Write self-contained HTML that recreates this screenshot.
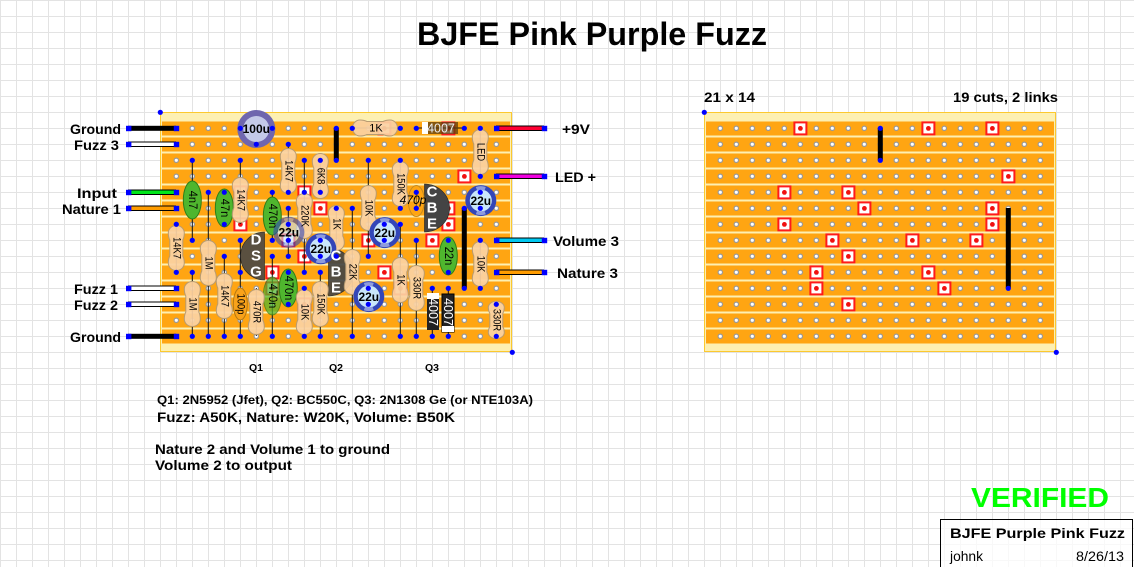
<!DOCTYPE html>
<html><head><meta charset="utf-8"><title>BJFE Pink Purple Fuzz</title>
<style>
html,body{margin:0;padding:0;background:#fff;width:1134px;height:567px;overflow:hidden}
svg{display:block}
text{font-family:"Liberation Sans",sans-serif}
.b{font-weight:bold}
.lab{font-weight:bold;font-size:14px;dominant-baseline:central}
.rt{font-size:11px;text-anchor:middle;dominant-baseline:central}
.ct{font-size:12px;text-anchor:middle;dominant-baseline:central}
.q{font-weight:bold;font-size:15px;fill:#fff;text-anchor:middle;dominant-baseline:central}
.cp{font-weight:bold;font-size:12px;text-anchor:middle;dominant-baseline:central}
.l{stroke:#111;stroke-width:1;fill:none}
</style></head><body>
<svg width="1134" height="567" viewBox="0 0 1134 567" xmlns="http://www.w3.org/2000/svg">
<defs>
<pattern id="grid" width="16" height="16" patternUnits="userSpaceOnUse"><path d="M.5 0V16M0 .5H16" stroke="#e3e3e3" stroke-width="1" fill="none"/></pattern>
<pattern id="h1" x="168" y="120" width="16" height="16" patternUnits="userSpaceOnUse"><circle cx="8.3" cy="8.3" r="2.2" fill="#fff" stroke="#999" stroke-width="1.2"/></pattern>
<pattern id="h2" x="712" y="120" width="16" height="16" patternUnits="userSpaceOnUse"><circle cx="8.3" cy="8.3" r="2.2" fill="#fff" stroke="#999" stroke-width="1.2"/></pattern>
<g id="c"><rect x="-5.6" y="-5.6" width="12" height="12" fill="#fff" stroke="#ff1a1a" stroke-width="2"/><circle cx=".4" cy=".4" r="2.4" fill="#f01010"/></g>
<circle id="d" r="2.6" fill="#0000ff"/>
<rect id="sq" x="-2.5" y="-2.5" width="5.4" height="5.4" fill="#0000ff"/>
<path id="r" d="M-6.5-8C-8-11-8-13-8-15A8 7.500 0 0 1 8-15C8-13 8-11 6.500-8L6.500 8C8 11 8 13 8 15A8 7.500 0 0 1-8 15C-8 13-8 11-6.500 8Z" fill="#fbd2a2" fill-opacity=".93" stroke="#b79b72" stroke-width="1"/>
<g id="e"><circle r="15.5" fill="#3346b8"/><circle r="11" fill="#c9e6fa"/><path d="M-5-13.6A15 15 0 0 1 5-13.6L3.600-10A11 11 0 0 0-3.600-10ZM-5 13.600A15 15 0 0 0 5 13.600L3.600 10A11 11 0 0 1-3.600 10Z" fill="#8e9bdc"/></g>
<ellipse id="g" rx="9" ry="19" fill="#4fb62e" stroke="#2f7d18" stroke-width="1"/>
</defs>
<rect width="1134" height="567" fill="url(#grid)"/>

<!-- left board -->
<rect x="160.500" y="112.500" width="351" height="239" fill="#fdf0b2" stroke="#fcc92e" stroke-width="1"/>
<g fill="#ffa512">
<rect x="162" y="121.500" width="348" height="14"/><rect x="162" y="137.500" width="348" height="14"/><rect x="162" y="153.500" width="348" height="14"/><rect x="162" y="169.500" width="348" height="14"/><rect x="162" y="185.500" width="348" height="14"/><rect x="162" y="201.500" width="348" height="14"/><rect x="162" y="217.500" width="348" height="14"/><rect x="162" y="233.500" width="348" height="14"/><rect x="162" y="249.500" width="348" height="14"/><rect x="162" y="265.500" width="348" height="14"/><rect x="162" y="281.500" width="348" height="14"/><rect x="162" y="297.500" width="348" height="14"/><rect x="162" y="313.500" width="348" height="14"/><rect x="162" y="329.500" width="348" height="14"/>
</g>
<rect x="168" y="120" width="336" height="224" fill="url(#h1)"/>

<!-- right board -->
<rect x="704.500" y="112.500" width="351" height="239" fill="#fdf0b2" stroke="#fcc92e" stroke-width="1"/>
<g fill="#ffa512">
<rect x="706" y="121.500" width="348" height="14"/><rect x="706" y="137.500" width="348" height="14"/><rect x="706" y="153.500" width="348" height="14"/><rect x="706" y="169.500" width="348" height="14"/><rect x="706" y="185.500" width="348" height="14"/><rect x="706" y="201.500" width="348" height="14"/><rect x="706" y="217.500" width="348" height="14"/><rect x="706" y="233.500" width="348" height="14"/><rect x="706" y="249.500" width="348" height="14"/><rect x="706" y="265.500" width="348" height="14"/><rect x="706" y="281.500" width="348" height="14"/><rect x="706" y="297.500" width="348" height="14"/><rect x="706" y="313.500" width="348" height="14"/><rect x="706" y="329.500" width="348" height="14"/>
</g>
<rect x="712" y="120" width="336" height="224" fill="url(#h2)"/>

<!-- cuts: right -->
<g>
<use href="#c" x="800" y="128"/><use href="#c" x="928" y="128"/><use href="#c" x="992" y="128"/><use href="#c" x="1008" y="176"/><use href="#c" x="784" y="192"/><use href="#c" x="848" y="192"/><use href="#c" x="864" y="208"/><use href="#c" x="992" y="208"/><use href="#c" x="784" y="224"/><use href="#c" x="992" y="224"/><use href="#c" x="832" y="240"/><use href="#c" x="912" y="240"/><use href="#c" x="976" y="240"/><use href="#c" x="848" y="256"/><use href="#c" x="816" y="272"/><use href="#c" x="928" y="272"/><use href="#c" x="816" y="288"/><use href="#c" x="944" y="288"/><use href="#c" x="848" y="304"/>
</g>
<!-- cuts: left -->
<g>
<use href="#c" x="256" y="128"/><use href="#c" x="384" y="128"/><use href="#c" x="448" y="128"/><use href="#c" x="464" y="176"/><use href="#c" x="240" y="192"/><use href="#c" x="304" y="192"/><use href="#c" x="320" y="208"/><use href="#c" x="448" y="208"/><use href="#c" x="240" y="224"/><use href="#c" x="448" y="224"/><use href="#c" x="288" y="240"/><use href="#c" x="368" y="240"/><use href="#c" x="432" y="240"/><use href="#c" x="304" y="256"/><use href="#c" x="272" y="272"/><use href="#c" x="384" y="272"/><use href="#c" x="272" y="288"/><use href="#c" x="400" y="288"/><use href="#c" x="304" y="304"/>
</g>

<!-- links right -->
<path d="M880.300 128V160M1008.300 208V288" stroke="#000" stroke-width="5" fill="none"/>
<use href="#d" x="880.300" y="128.300"/><use href="#d" x="880.300" y="160.300"/><use href="#d" x="1008.300" y="288.300"/>
<use href="#d" x="704.300" y="112.300"/><use href="#d" x="1056.300" y="352.300"/>

<!-- links left -->
<path d="M336.300 128V160M464.300 208V288" stroke="#000" stroke-width="5" fill="none"/>

<!-- leads -->
<g class="l">
<path d="M192.300 160V240M208.300 192V336M192.300 272V336M176.300 224V272M224.300 192V224M224.300 256V336M240.300 160V224M240.300 240V336M256.300 288V336M272.300 192V240M272.300 256V336M288.300 144V192M288.300 208V256M288.300 272V304M304.300 160V272M304.300 288V336M320.300 160V192M320.300 272V336M336.300 208V256M352.300 208V336M368.300 160V256M400.300 160V208M400.300 224V336M416.300 192V208M416.300 240V336M432.300 288V336M448.300 240V272M448.300 288V336M480.300 128V176M480.300 240V288M496.300 304V336M352.300 128H400M416.300 128H464"/>
</g>

<!-- transistors -->
<path d="M264.500 232A24 24 0 0 0 264.500 280Z" fill="#5a5040" stroke="#222" stroke-width=".6"/>
<path d="M328.500 248A25 24 0 0 1 328.500 296Z" fill="#444" fill-opacity=".92" stroke="#222" stroke-width=".6"/>
<path d="M424.500 184A25 24 0 0 1 424.500 232Z" fill="#444" stroke="#222" stroke-width=".6"/>

<!-- capacitors -->
<use href="#g" transform="translate(192.300 200)"/>
<use href="#g" transform="translate(224.300 208)"/>
<use href="#g" transform="translate(272.300 216)"/>
<use href="#g" transform="translate(272.300 296)" opacity=".72"/>
<use href="#g" transform="translate(288.300 288)"/>
<use href="#g" transform="translate(448.300 256)"/>
<ellipse cx="240.300" cy="304" rx="7" ry="16" fill="#f9a21a" stroke="#b47812" stroke-width="1"/>
<ellipse cx="416.300" cy="201" rx="8" ry="15.500" fill="#ffa512" fill-opacity=".5" stroke="#c58a20" stroke-width="1"/>

<!-- resistors -->
<use href="#r" transform="translate(176.300 248)"/>
<use href="#r" transform="translate(208.300 263)"/>
<use href="#r" transform="translate(192.300 304)"/>
<use href="#r" transform="translate(224.300 296)"/>
<use href="#r" transform="translate(240.300 200)"/>
<use href="#r" transform="translate(256.300 312)"/>
<use href="#r" transform="translate(288.300 171)"/>
<use href="#r" transform="translate(304.300 216)"/>
<use href="#r" transform="translate(304.300 312)"/>
<use href="#r" transform="translate(320.300 176)"/>
<use href="#r" transform="translate(320.300 304)"/>
<use href="#r" transform="translate(336.300 228)"/>
<use href="#r" transform="translate(352.300 272)"/>
<use href="#r" transform="translate(368.300 208)"/>
<use href="#r" transform="translate(400.300 184)"/>
<use href="#r" transform="translate(400.300 280)"/>
<use href="#r" transform="translate(416.300 288)"/>
<use href="#r" transform="translate(480.300 152)"/>
<use href="#r" transform="translate(480.300 264)"/>
<use href="#r" transform="translate(496.300 320) scale(1 .83)"/>
<use href="#r" transform="translate(375 128) rotate(90)"/>

<!-- diodes -->
<rect x="422" y="122" width="36" height="12" fill="#5c3d10" fill-opacity=".75"/>
<rect x="422" y="122" width="6" height="12" fill="#fff"/>
<rect x="427" y="293" width="12" height="37" fill="#222"/>
<rect x="427" y="293" width="12" height="6" fill="#fff"/>
<rect x="442" y="294" width="12" height="38" fill="#222" stroke="#000"/>
<rect x="442" y="326" width="12" height="6" fill="#fff"/>

<!-- electrolytics -->
<circle cx="256.300" cy="129" r="19" fill="#6f66ae"/><circle cx="256.300" cy="129" r="13" fill="#c4c9e8"/>
<use href="#e" transform="translate(288.800 232.300)" opacity=".6"/>
<use href="#e" transform="translate(320.800 248.800)"/>
<use href="#e" transform="translate(384.800 232.600)"/>
<use href="#e" transform="translate(480.800 200.600)"/>
<use href="#e" transform="translate(368.800 296.600)"/>

<!-- off-board wires -->
<rect x="128" y="125.800" width="48" height="5" fill="#000"/>
<rect x="128.500" y="142" width="47" height="4.500" fill="#fff" stroke="#000"/>
<rect x="128.500" y="190" width="47" height="4.500" fill="#00e61a" stroke="#000"/>
<rect x="128.500" y="206" width="47" height="4.500" fill="#ff9c00" stroke="#000"/>
<rect x="128.500" y="286" width="47" height="4.500" fill="#fff" stroke="#000"/>
<rect x="128.500" y="302" width="47" height="4.500" fill="#fff" stroke="#000"/>
<rect x="128" y="333.800" width="48" height="5" fill="#000"/>
<rect x="496.500" y="126" width="47" height="4.500" fill="#ff0033" stroke="#000"/>
<rect x="496.500" y="174" width="47" height="4.500" fill="#f000e0" stroke="#000"/>
<rect x="496.500" y="238" width="47" height="4.500" fill="#00c8f0" stroke="#000"/>
<rect x="496.500" y="270" width="47" height="4.500" fill="#ff9c00" stroke="#000"/>
<g>
<use href="#sq" x="128.500" y="128.300"/><use href="#sq" x="176.300" y="128.300"/>
<use href="#sq" x="128.500" y="144.300"/><use href="#sq" x="176.300" y="144.300"/>
<use href="#sq" x="128.500" y="192.300"/><use href="#sq" x="176.300" y="192.300"/>
<use href="#sq" x="128.500" y="208.300"/><use href="#sq" x="176.300" y="208.300"/>
<use href="#sq" x="128.500" y="288.300"/><use href="#sq" x="176.300" y="288.300"/>
<use href="#sq" x="128.500" y="304.300"/><use href="#sq" x="176.300" y="304.300"/>
<use href="#sq" x="128.500" y="336.300"/><use href="#sq" x="176.300" y="336.300"/>
<use href="#sq" x="496.500" y="128.300"/><use href="#sq" x="544.300" y="128.300"/>
<use href="#sq" x="496.500" y="176.300"/><use href="#sq" x="544.300" y="176.300"/>
<use href="#sq" x="496.500" y="240.300"/><use href="#sq" x="544.300" y="240.300"/>
<use href="#sq" x="496.500" y="272.300"/><use href="#sq" x="544.300" y="272.300"/>
</g>

<!-- pad dots -->
<g>
<use href="#d" x="160.300" y="112.300"/><use href="#d" x="512.300" y="352.300"/>
<use href="#d" x="240.300" y="128.300"/><use href="#d" x="272.300" y="128.300"/><use href="#d" x="256.300" y="144.300"/><use href="#d" x="288.300" y="144.300"/>
<use href="#d" x="192.300" y="160.300"/><use href="#d" x="240.300" y="160.300"/><use href="#d" x="304.300" y="160.300"/><use href="#d" x="320.300" y="160.300"/><use href="#d" x="336.300" y="128.300"/><use href="#d" x="336.300" y="160.300"/><use href="#d" x="368.300" y="160.300"/><use href="#d" x="400.300" y="160.300"/>
<use href="#d" x="352.300" y="128.300"/><use href="#d" x="400.300" y="128.300"/><use href="#d" x="416.300" y="128.300"/><use href="#d" x="464.300" y="128.300"/><use href="#d" x="480.300" y="128.300"/><use href="#d" x="480.300" y="176.300"/>
<use href="#d" x="208.300" y="192.300"/><use href="#d" x="224.300" y="192.300"/><use href="#d" x="272.300" y="192.300"/><use href="#d" x="288.300" y="192.300"/><use href="#d" x="304.300" y="192.300"/><use href="#d" x="320.300" y="192.300"/><use href="#d" x="416.300" y="192.300"/><use href="#d" x="480.300" y="192.300"/>
<use href="#d" x="288.300" y="208.300"/><use href="#d" x="336.300" y="208.300"/><use href="#d" x="352.300" y="208.300"/><use href="#d" x="400.300" y="208.300"/><use href="#d" x="416.300" y="208.300"/><use href="#d" x="464.300" y="208.300"/><use href="#d" x="480.300" y="208.300"/>
<use href="#d" x="176.300" y="224.300"/><use href="#d" x="224.300" y="224.300"/><use href="#d" x="288.300" y="224.300"/><use href="#d" x="384.300" y="224.300"/><use href="#d" x="400.300" y="224.300"/>
<use href="#d" x="192.300" y="240.300"/><use href="#d" x="240.300" y="240.300"/><use href="#d" x="272.300" y="240.300"/><use href="#d" x="288.300" y="240.300"/><use href="#d" x="320.300" y="240.300"/><use href="#d" x="384.300" y="240.300"/><use href="#d" x="416.300" y="240.300"/><use href="#d" x="448.300" y="240.300"/><use href="#d" x="480.300" y="240.300"/>
<use href="#d" x="224.300" y="256.300"/><use href="#d" x="272.300" y="256.300"/><use href="#d" x="288.300" y="256.300"/><use href="#d" x="320.300" y="256.300"/><use href="#d" x="336.300" y="256.300"/><use href="#d" x="368.300" y="256.300"/>
<use href="#d" x="176.300" y="272.300"/><use href="#d" x="192.300" y="272.300"/><use href="#d" x="240.300" y="272.300"/><use href="#d" x="288.300" y="272.300"/><use href="#d" x="304.300" y="272.300"/><use href="#d" x="320.300" y="272.300"/><use href="#d" x="448.300" y="272.300"/>
<use href="#d" x="304.300" y="288.300"/><use href="#d" x="368.300" y="288.300"/><use href="#d" x="432.300" y="288.300"/><use href="#d" x="448.300" y="288.300"/><use href="#d" x="464.300" y="288.300"/><use href="#d" x="480.300" y="288.300"/>
<use href="#d" x="288.300" y="304.300"/><use href="#d" x="368.300" y="304.300"/><use href="#d" x="496.300" y="304.300"/>
<use href="#d" x="192.300" y="336.300"/><use href="#d" x="208.300" y="336.300"/><use href="#d" x="224.300" y="336.300"/><use href="#d" x="240.300" y="336.300"/><use href="#d" x="272.300" y="336.300"/><use href="#d" x="304.300" y="336.300"/><use href="#d" x="320.300" y="336.300"/><use href="#d" x="352.300" y="336.300"/><use href="#d" x="400.300" y="336.300"/><use href="#d" x="416.300" y="336.300"/><use href="#d" x="432.300" y="336.300"/><use href="#d" x="448.300" y="336.300"/><use href="#d" x="496.300" y="336.300"/>
</g>

<!-- component labels -->
<g class="ct">
<text transform="translate(192.300 200) rotate(90) scale(.92 1)">4n7</text>
<text transform="translate(224.300 208) rotate(90) scale(.92 1)">47n</text>
<text transform="translate(272.300 216) rotate(90) scale(.92 1)">470n</text>
<text transform="translate(272.300 296) rotate(90) scale(.92 1)">470n</text>
<text transform="translate(288.300 288) rotate(90) scale(.92 1)">470n</text>
<text transform="translate(448.300 256) rotate(90) scale(.92 1)">22n</text>
</g>
<g class="rt">
<text transform="translate(240.300 304) rotate(90) scale(.85 1)">100p</text>
<text transform="translate(176.300 248) rotate(90) scale(.85 1)">14K7</text>
<text transform="translate(208.300 263) rotate(90) scale(.85 1)">1M</text>
<text transform="translate(192.300 304) rotate(90) scale(.85 1)">1M</text>
<text transform="translate(224.300 296) rotate(90) scale(.85 1)">14K7</text>
<text transform="translate(240.300 200) rotate(90) scale(.85 1)">14K7</text>
<text transform="translate(256.300 312) rotate(90) scale(.85 1)">470R</text>
<text transform="translate(288.300 171) rotate(90) scale(.85 1)">14K7</text>
<text transform="translate(304.300 216) rotate(90) scale(.85 1)">220K</text>
<text transform="translate(304.300 312) rotate(90) scale(.85 1)">10K</text>
<text transform="translate(320.300 176) rotate(90) scale(.85 1)">6K8</text>
<text transform="translate(320.300 304) rotate(90) scale(.85 1)">150K</text>
<text transform="translate(336.300 224) rotate(90) scale(.85 1)">1K</text>
<text transform="translate(352.300 272) rotate(90) scale(.85 1)">22K</text>
<text transform="translate(368.300 208) rotate(90) scale(.85 1)">10K</text>
<text transform="translate(400.300 184) rotate(90) scale(.85 1)">150K</text>
<text transform="translate(400.300 280) rotate(90) scale(.85 1)">1K</text>
<text transform="translate(416.300 288) rotate(90) scale(.85 1)">330R</text>
<text transform="translate(480.300 152) rotate(90) scale(.85 1)">LED</text>
<text transform="translate(480.300 264) rotate(90) scale(.85 1)">10K</text>
<text transform="translate(496.300 320) rotate(90) scale(.85 1)">330R</text>
</g>
<text class="rt" x="376" y="128.500" style="font-size:11px">1K</text>
<text class="rt" x="441" y="128.500" fill="#eee" style="font-size:12.500px">4007</text>
<text class="rt" transform="translate(433 312) rotate(90)" fill="#fff" style="font-size:12.500px">4007</text>
<text class="rt" transform="translate(448 312) rotate(90)" fill="#fff" style="font-size:12.500px">4007</text>
<text class="rt" x="413" y="200" style="font-size:12px;font-style:italic">470p</text>
<text class="cp" x="256.300" y="129">100u</text>
<text class="cp" x="288.800" y="232.500">22u</text>
<text class="cp" x="320.800" y="249">22u</text>
<text class="cp" x="384.800" y="233">22u</text>
<text class="cp" x="480.800" y="201">22u</text>
<text class="cp" x="368.800" y="297">22u</text>
<text class="q" x="256" y="240">D</text><text class="q" x="256" y="256">S</text><text class="q" x="256" y="272">G</text>
<text class="q" x="336" y="256">C</text><text class="q" x="336" y="272">B</text><text class="q" x="336" y="288">E</text>
<text class="q" x="432" y="192">C</text><text class="q" x="432" y="208">B</text><text class="q" x="432" y="224">E</text>

<!-- wire labels -->
<g class="lab">
<text x="70" y="129" textLength="51" lengthAdjust="spacingAndGlyphs">Ground</text>
<text x="74" y="145" textLength="45" lengthAdjust="spacingAndGlyphs">Fuzz 3</text>
<text x="77" y="193" textLength="40" lengthAdjust="spacingAndGlyphs">Input</text>
<text x="62" y="209" textLength="59" lengthAdjust="spacingAndGlyphs">Nature 1</text>
<text x="74" y="289" textLength="44" lengthAdjust="spacingAndGlyphs">Fuzz 1</text>
<text x="74" y="305" textLength="44" lengthAdjust="spacingAndGlyphs">Fuzz 2</text>
<text x="70" y="337" textLength="51" lengthAdjust="spacingAndGlyphs">Ground</text>
<text x="562" y="129" textLength="28" lengthAdjust="spacingAndGlyphs">+9V</text>
<text x="555" y="177" textLength="41" lengthAdjust="spacingAndGlyphs">LED +</text>
<text x="553" y="241" textLength="66" lengthAdjust="spacingAndGlyphs">Volume 3</text>
<text x="557" y="273" textLength="61" lengthAdjust="spacingAndGlyphs">Nature 3</text>
<text x="704" y="97" textLength="51" lengthAdjust="spacingAndGlyphs">21 x 14</text>
<text x="953" y="97" textLength="105" lengthAdjust="spacingAndGlyphs">19 cuts, 2 links</text>
<text x="155" y="449" textLength="235" lengthAdjust="spacingAndGlyphs">Nature 2 and Volume 1 to ground</text>
<text x="155" y="465" textLength="137" lengthAdjust="spacingAndGlyphs">Volume 2 to output</text>
<text x="157" y="417" textLength="298" lengthAdjust="spacingAndGlyphs">Fuzz: A50K,  Nature: W20K, Volume: B50K</text>
</g>
<text class="lab" style="font-size:12px" x="157" y="400" textLength="376" lengthAdjust="spacingAndGlyphs">Q1: 2N5952 (Jfet), Q2: BC550C,  Q3: 2N1308 Ge (or NTE103A)</text>
<text class="lab" style="font-size:10.500px" x="249" y="368" textLength="14" lengthAdjust="spacingAndGlyphs">Q1</text>
<text class="lab" style="font-size:10.500px" x="329" y="368" textLength="14" lengthAdjust="spacingAndGlyphs">Q2</text>
<text class="lab" style="font-size:10.500px" x="425" y="368" textLength="14" lengthAdjust="spacingAndGlyphs">Q3</text>

<text class="b" x="417" y="45" font-size="32" textLength="350" lengthAdjust="spacingAndGlyphs">BJFE Pink Purple Fuzz</text>
<text class="b" x="971" y="507" font-size="28" fill="#00ff00" textLength="138" lengthAdjust="spacingAndGlyphs">VERIFIED</text>

<rect x="940.500" y="519.500" width="192" height="60" fill="#fff" fill-opacity=".75" stroke="#000" stroke-width="1"/>
<text class="lab" x="950" y="533" textLength="175" lengthAdjust="spacingAndGlyphs">BJFE Purple Pink Fuzz</text>
<text x="950" y="561" font-size="13.500" textLength="33" lengthAdjust="spacingAndGlyphs">johnk</text>
<text x="1076" y="561" font-size="13.500" textLength="48" lengthAdjust="spacingAndGlyphs">8/26/13</text>
</svg>
</body></html>
